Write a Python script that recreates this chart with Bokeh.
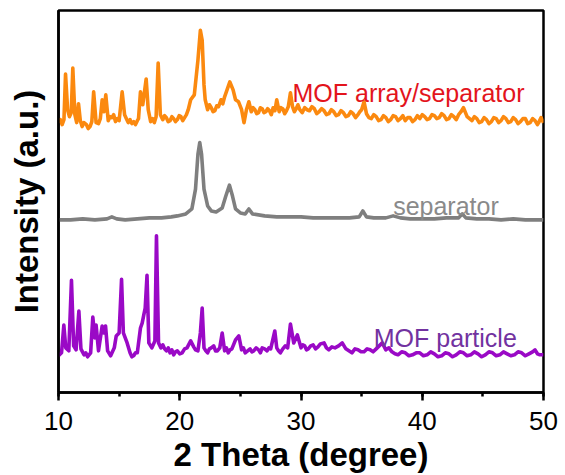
from bokeh.plotting import figure
from bokeh.models import Range1d, FixedTicker, SingleIntervalTicker, Label
from bokeh.embed import file_html
from bokeh.resources import INLINE

# XRD patterns (2 theta in degrees, stacked intensity in arbitrary units)
array_2theta = [10.0, 10.15, 10.3, 10.45, 10.58, 10.75, 10.9, 11.05, 11.18, 11.35, 11.5, 11.65, 11.8,
                11.95, 12.1, 12.3, 12.45, 12.6, 12.75, 12.9, 13.1, 13.3, 13.45, 13.6, 13.75, 13.9,
                14.1, 14.25, 14.4, 14.55, 14.7, 14.85, 15.0, 15.25, 15.45, 15.6, 15.75, 15.9,
                16.05, 16.2, 16.35, 16.5, 16.6, 16.76, 16.95, 17.23, 17.4, 17.6, 17.75, 17.9,
                18.05, 18.22, 18.4, 18.6, 18.75, 18.9, 19.05, 19.2, 19.35, 19.5, 19.65, 19.8,
                19.95, 20.1, 20.25, 20.4, 20.55, 20.7, 20.9, 21.2, 21.5,
                21.7, 21.85, 22.0, 22.1, 22.3, 22.45, 22.6, 22.75, 22.9, 23.05, 23.2, 23.4, 23.55,
                23.7, 23.9, 24.13, 24.4, 24.6, 24.85, 25.1, 25.3, 25.5, 25.7, 25.9, 26.05, 26.2,
                26.35, 26.5, 26.65, 26.8, 26.95, 27.1, 27.25, 27.4, 27.55, 27.7, 27.85,
                28.0, 28.2, 28.35, 28.5, 28.65, 28.8, 28.95, 29.13, 29.3, 29.45, 29.6, 29.75,
                29.9, 30.1, 30.3, 30.5, 30.7, 30.9, 31.1, 31.3, 31.5, 31.7, 31.9,
                32.1, 32.3, 32.5, 32.7, 32.9, 33.1, 33.3, 33.5, 33.7, 33.9, 34.1, 34.3, 34.5,
                34.7, 34.85, 35.0, 35.2, 35.4, 35.6, 35.8, 36.0, 36.2, 36.4, 36.6, 36.8,
                37.0, 37.2, 37.4, 37.6, 37.8, 38.0, 38.2, 38.4, 38.6, 38.8, 39.0, 39.2, 39.4,
                39.6, 39.8, 40.0, 40.2, 40.4, 40.6, 40.8, 41.0, 41.2, 41.4, 41.6, 41.8,
                42.0, 42.2, 42.4, 42.6, 42.8, 43.0, 43.2, 43.4, 43.7, 43.9, 44.1, 44.3, 44.5,
                44.7, 44.9, 45.1, 45.3, 45.5, 45.7, 45.9, 46.1, 46.3, 46.5, 46.7, 46.9,
                47.1, 47.3, 47.5, 47.7, 47.9, 48.1, 48.3, 48.5, 48.7, 48.9, 49.1, 49.3,
                49.5, 49.6, 49.8, 50.0]
array_intensity = [272, 275, 270, 275, 321, 285, 278, 282, 327, 280, 272, 291, 274,
                   268, 272, 270, 266, 268, 273, 303, 272, 271, 276, 295, 283, 300,
                   274, 278, 277, 280, 273, 276, 274, 303, 280, 276, 272, 275,
                   271, 273, 270, 274, 276, 303, 290, 316, 285, 273, 276, 272,
                   278, 332, 280, 275, 279, 277, 273, 274, 278, 276, 273, 275,
                   279, 278, 274, 277, 280, 285, 295, 300, 335,
                   365, 355, 310, 295, 285, 290, 287, 283, 284, 289, 288, 295, 291,
                   298, 305, 313, 305, 295, 293, 285, 272, 285, 293, 283, 287, 285,
                   281, 282, 287, 286, 282, 283, 286, 284, 280, 287, 284,
                   295, 283, 287, 286, 281, 284, 288, 302, 288, 283, 286, 290,
                   285, 282, 287, 285, 284, 288, 286, 281, 283, 286, 284,
                   280, 281, 285, 283, 279, 280, 284, 282, 278, 279, 283, 281, 277,
                   280, 283, 285, 293, 281, 277, 276, 280, 278, 274, 275, 279,
                   277, 273, 275, 279, 278, 274, 276, 279, 274, 277, 277, 273, 275,
                   279, 276, 280, 278, 275, 276, 280, 279, 276, 277, 281, 279,
                   275, 276, 280, 278, 275, 280, 283, 287, 278, 276, 274, 278, 276,
                   272, 273, 277, 275, 271, 273, 277, 276, 272, 274, 278, 276,
                   272, 273, 277, 275, 271, 273, 276, 276, 271, 272, 276, 274,
                   270, 272, 277, 272]

separator_2theta = [10.0, 11.0, 12.0, 13.0, 14.0, 14.4, 14.8, 15.5, 16.5, 17.5, 18.5, 19.3,
                    19.8, 20.5, 21.0, 21.3, 21.5, 21.65, 21.8, 22.0, 22.3, 22.6, 23.0, 23.5,
                    23.8, 24.1, 24.35, 24.6, 25.0, 25.4, 25.7, 26.0, 27.0, 28.0, 29.0, 30.0,
                    31.0, 32.0, 33.0, 34.0, 34.8, 35.1, 35.4, 36.0, 37.0, 37.6, 38.2, 39.0,
                    40.0, 41.0, 42.0, 43.0, 43.3, 43.6, 44.5, 45.5, 46.5, 47.5, 48.5, 49.5, 50.0]
separator_intensity = [174, 174, 175, 174, 175, 177, 175, 174, 175, 176, 176, 177,
                       178, 180, 185, 205, 240, 252, 240, 205, 188, 183, 182, 186,
                       198, 209, 198, 185, 181, 180, 185, 180, 178, 177, 177, 177,
                       176, 176, 176, 176, 177, 183, 177, 176, 176, 178, 176, 175,
                       175, 175, 176, 176, 180, 176, 175, 175, 174, 175, 174, 174, 174]

particle_2theta = [10.0, 10.25, 10.44, 10.6, 10.85, 11.07, 11.25, 11.45, 11.68, 11.85, 12.1,
                   12.25, 12.4, 12.65, 12.83, 13.0, 13.1, 13.3, 13.6, 13.75, 13.88, 14.05, 14.3, 14.6,
                   14.76, 15.0, 15.2, 15.35, 15.66, 15.9, 16.05, 16.2, 16.35, 16.5, 16.76, 16.9, 17.03, 17.15,
                   17.3, 17.45, 17.7, 17.95, 18.08, 18.25, 18.45, 18.6, 18.75, 18.9, 19.05, 19.2, 19.35,
                   19.5, 19.65, 19.8, 20.0, 20.2, 20.4,
                   20.6, 20.9, 21.15, 21.3, 21.5, 21.7, 21.85, 22.0, 22.15, 22.3, 22.45, 22.6, 22.8, 22.95,
                   23.1, 23.3, 23.5, 23.7, 23.85, 24.0, 24.15, 24.3, 24.6, 24.87, 25.1, 25.25, 25.4, 25.6,
                   25.8, 25.95, 26.1, 26.3, 26.5, 26.65, 26.8, 27.0,
                   27.2, 27.35, 27.5, 27.84, 28.0, 28.15, 28.3, 28.5, 28.7, 28.9, 29.13, 29.4, 29.7,
                   30.0, 30.15, 30.3, 30.45, 30.6, 30.8, 31.0, 31.2, 31.4, 31.6, 31.9, 32.1, 32.3,
                   32.55, 32.8, 33.1, 33.4, 33.7, 33.95, 34.2, 34.45, 34.7, 34.95, 35.2, 35.45, 35.7,
                   35.95, 36.2, 36.45, 36.7, 37.0, 37.25, 37.5, 37.75, 38.0, 38.3, 38.6, 38.9, 39.2,
                   39.5, 39.8, 40.1, 40.4, 40.7, 41.0, 41.3, 41.6, 41.9, 42.2, 42.5, 42.8,
                   43.1, 43.4, 43.7, 44.0, 44.3, 44.6, 44.9, 45.2, 45.5, 45.8, 46.1, 46.4, 46.7,
                   47.0, 47.3, 47.6, 47.9, 48.2, 48.5, 48.8, 49.1, 49.3, 49.5, 49.7, 50.0]
particle_intensity = [37, 40, 68, 45, 42, 113, 47, 43, 82, 44, 38,
                      40, 36, 40, 76, 55, 68, 42, 67, 60, 67, 42, 37, 45,
                      57, 60, 114, 60, 50, 40, 36, 37, 40, 40, 65, 70, 78, 85,
                      118, 50, 45, 52, 158, 50, 45, 48, 44, 42, 45, 40, 43,
                      38, 41, 42, 39, 40, 44,
                      45, 52, 46, 43, 42, 60, 85, 45, 42, 40, 44, 45, 47, 42,
                      42, 45, 60, 42, 45, 40, 43, 44, 53, 57, 43, 45, 40, 42,
                      44, 41, 42, 45, 43, 40, 45, 44,
                      42, 45, 44, 62, 45, 42, 40, 44, 47, 45, 69, 50, 58,
                      45, 48, 47, 43, 44, 47, 48, 44, 46, 49, 50, 45, 43,
                      46, 45, 47, 50, 44, 42, 40, 44, 43, 41, 41, 44, 43,
                      41, 44, 47, 50, 43, 45, 41, 39, 38, 41, 40, 37, 38,
                      40, 40, 37, 38, 41, 39, 36, 37, 40, 39, 36, 38,
                      41, 40, 37, 38, 41, 39, 36, 38, 41, 40, 37, 38, 41,
                      39, 37, 38, 41, 40, 37, 39, 41, 43, 39, 38, 38]

series_names = ["MOF array/separator", "separator", "MOF particle"]
line_colors = ["#fb890f", "#7f7f7f", "#9a09c6"]
text_colors = ["#e3141c", "#8a8a8a", "#7232a0"]
label_x = [29.3, 37.6, 36.0]
label_y = [302, 188, 55]

p = figure(width=565, height=475, output_backend="svg", toolbar_location=None,
           x_range=Range1d(10, 50), y_range=Range1d(0, 385),
           min_border_left=58, min_border_right=22, min_border_top=10, min_border_bottom=80)

p.grid.visible = False
p.background_fill_color = "white"
p.border_fill_color = "white"
p.outline_line_color = "black"
p.outline_line_width = 2.5

xs = [array_2theta, separator_2theta, particle_2theta]
ys = [array_intensity, separator_intensity, particle_intensity]
for x, y, c in zip(xs, ys, line_colors):
    p.line(x, y, line_color=c, line_width=3.6, line_join="round")

for name, lx, ly, tc in zip(series_names, label_x, label_y, text_colors):
    p.add_layout(Label(x=lx, y=ly, text=name, text_color=tc, text_font="Liberation Sans",
                       text_font_size="25px", text_baseline="alphabetic"))

xa = p.xaxis[0]
xa.ticker = SingleIntervalTicker(interval=10, num_minor_ticks=2)
xa.axis_line_width = 2.5
xa.major_tick_line_width = 2.5
xa.minor_tick_line_width = 2.5
xa.major_tick_in = 0
xa.major_tick_out = 8
xa.minor_tick_in = 0
xa.minor_tick_out = 4
xa.major_label_text_font = "Liberation Sans"
xa.major_label_text_font_size = "26px"
xa.major_label_text_color = "black"
xa.major_label_standoff = 11
xa.axis_label = "2 Theta (degree)"
xa.axis_label_text_font = "Liberation Sans"
xa.axis_label_text_font_size = "33px"
xa.axis_label_text_font_style = "bold"
xa.axis_label_text_color = "black"
xa.axis_label_standoff = 3

ya = p.yaxis[0]
ya.ticker = FixedTicker(ticks=[])
ya.axis_line_width = 2.5
ya.major_tick_line_color = None
ya.minor_tick_line_color = None
ya.major_label_text_font_size = "0px"
ya.axis_label = "Intensity (a.u.)"
ya.axis_label_text_font = "Liberation Sans"
ya.axis_label_text_font_size = "33px"
ya.axis_label_text_font_style = "bold"
ya.axis_label_text_color = "black"
ya.axis_label_standoff = 14

open("out.html", "w").write(file_html(p, INLINE))
